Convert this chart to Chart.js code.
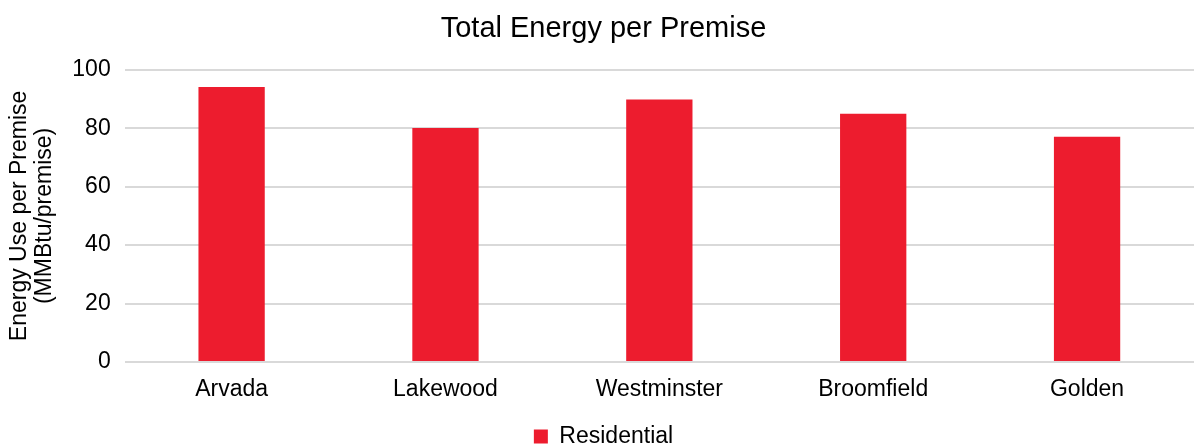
<!DOCTYPE html>
<html>
<head>
<meta charset="utf-8">
<script src="https://cdn.jsdelivr.net/npm/chart.js@4/dist/chart.umd.min.js"></script>
<style>
  html, body { margin: 0; padding: 0; background: #fff; }
  #wrap { width: 1194px; height: 447px; position: relative; }
</style>
</head>
<body>
<div id="wrap"><canvas id="energyChart"></canvas></div>
<script>
// data
const cities = ['Arvada', 'Lakewood', 'Westminster', 'Broomfield', 'Golden'];
const residential = [94.1, 80.1, 89.8, 85.0, 77.1];
const yTicks = [0, 20, 40, 60, 80, 100];

Chart.defaults.font.family = '"Liberation Sans", Arial, sans-serif';
Chart.defaults.color = '#000';

new Chart(document.getElementById('energyChart'), {
  type: 'bar',
  data: {
    labels: cities,
    datasets: [{
      label: 'Residential',
      data: residential,
      backgroundColor: '#ED1C2E',
      categoryPercentage: 1,
      barPercentage: 0.31
    }]
  },
  options: {
    responsive: true,
    maintainAspectRatio: false,
    animation: false,
    layout: { padding: { left: 4, right: -9, top: 8, bottom: -11 } },
    plugins: {
      title: {
        display: true,
        text: 'Total Energy per Premise',
        font: { size: 29, weight: 'normal' },
        color: '#000',
        padding: { top: 4, bottom: 23 }
      },
      legend: {
        position: 'bottom',
        labels: {
          font: { size: 23 },
          boxWidth: 14,
          boxHeight: 14,
          padding: 0
        }
      },
      tooltip: { enabled: false }
    },
    scales: {
      x: {
        grid: { display: false },
        border: { display: false },
        ticks: { font: { size: 23 }, padding: 6 },
        // leave the gap between the city names and the legend
        afterFit: (s) => { s.height = 63; }
      },
      y: {
        min: 0,
        max: 100,
        afterBuildTicks: (axis) => { axis.ticks = yTicks.map(v => ({ value: v })); },
        grid: { color: '#D9D9D9', lineWidth: 2, drawTicks: false },
        border: { display: false },
        ticks: { font: { size: 23 }, padding: 14 },
        title: {
          display: true,
          text: ['Energy Use per Premise', '(MMBtu/premise)'],
          font: { size: 23, lineHeight: 1.05 },
          padding: { top: 4, bottom: 2 }
        }
      }
    }
  }
});
</script>
</body>
</html>
